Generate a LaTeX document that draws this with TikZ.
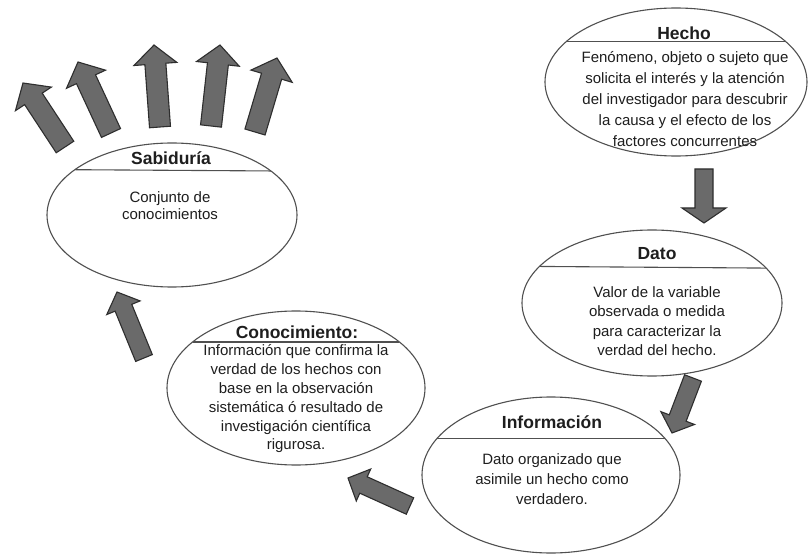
\documentclass[tikz,border=0pt]{standalone}
\usepackage{fontspec}
\setmainfont{Liberation Sans}
\usetikzlibrary{calc,shapes.geometric}
\definecolor{arrowfill}{HTML}{6A6A6A}
\definecolor{arrowline}{HTML}{2E2E2E}
\definecolor{inkline}{HTML}{505050}
\definecolor{inktext}{HTML}{1E1E1E}
\tikzset{
  bubble/.style={ellipse, draw=inkline, line width=1.1pt, inner sep=0pt, outer sep=0pt},
  sepline/.style={draw=inkline, line width=1.1pt},
  titletext/.style={text=inktext, font=\fontsize{17.5}{20}\selectfont\bfseries, inner sep=0pt},
  bodytext/.style={text=inktext, align=center, inner sep=0pt},
  barrow/.style={fill=arrowfill, draw=arrowline, line width=1.1pt, line join=miter},
}
% tail, tip, half shaft width, half head width, head length
\newcommand\blockarrow[5]{%
  \coordinate (#2-base) at ($(#2)!#5!(#1)$);
  \filldraw[barrow] ($(#1)!#3!90:(#2)$) -- ($(#2-base)!#3!90:(#2)$) -- ($(#2-base)!#4!90:(#2)$)
    -- (#2) -- ($(#2-base)!#4!-90:(#2)$) -- ($(#2-base)!#3!-90:(#2)$) -- ($(#1)!#3!-90:(#2)$) -- cycle;}
\begin{document}
\begin{tikzpicture}[x=1pt,y=-1pt]
\useasboundingbox[fill=white] (0,0) rectangle (809,556);

% ellipses
\node[bubble, minimum width=262pt, minimum height=148pt] (hecho) at (676,82) {};
\node[bubble, minimum width=260pt, minimum height=146pt] (dato) at (652,303) {};
\node[bubble, minimum width=258pt, minimum height=156pt] (info) at (551,475) {};
\node[bubble, minimum width=258pt, minimum height=154pt] (cono) at (296,388) {};
\node[bubble, minimum width=250pt, minimum height=144pt] (sabi) at (172,215) {};

% separators
\draw[sepline] (hecho.160) -- (hecho.20);
\draw[sepline] (dato.162.9) -- (dato.17.1);
\draw[sepline] (info.162) -- (info.18);
\draw[sepline] (cono.156) -- (cono.24);
\draw[sepline] (sabi.155) -- (sabi.24);

% titles
\node[titletext, anchor=base] (hechoT) at (684,39.5) {Hecho};
\node[titletext, anchor=base] (datoT) at (657,259.5) {Dato};
\node[titletext, anchor=base] (infoT) at (552,428.5) {Información};
\node[titletext, anchor=base] (conoT) at (297,338.5) {Conocimiento:};
\node[titletext, anchor=base] (sabiT) at (171,164.5) {Sabiduría};

% bodies
\node[bodytext, font=\fontsize{15}{21}\selectfont] (hechoB) at (685,99)
  {Fenómeno, objeto o sujeto que\\ solicita el interés y la atención\\ del investigador para descubrir\\ la causa y el efecto de los\\ factores concurrentes};
\node[bodytext, font=\fontsize{15}{19.3}\selectfont] (datoB) at (657,321)
  {Valor de la variable\\ observada o medida\\ para caracterizar la\\ verdad del hecho.};
\node[bodytext, font=\fontsize{15}{20}\selectfont] (infoB) at (552,479)
  {Dato organizado que\\ asimile un hecho como\\ verdadero.};
\node[bodytext, font=\fontsize{15}{18.8}\selectfont] (conoB) at (296,399)
  {Información que confirma la\\ verdad de los hechos con\\ base en la observación\\ sistemática ó resultado de\\ investigación científica\\ rigurosa.};
\node[bodytext, font=\fontsize{15}{17}\selectfont] (sabiB) at (170,205.5)
  {Conjunto de\\ conocimientos};

% cycle arrows
\coordinate (hdTail) at (704,169); \coordinate (hdTip) at (704,223);
\coordinate (diTail) at (693,378); \coordinate (diTip) at (672,433);
\coordinate (icTail) at (410,506); \coordinate (icTip) at (348,478);
\coordinate (csTail) at (144,358); \coordinate (csTip) at (117,292);
\blockarrow{hdTail}{hdTip}{9pt}{22pt}{15pt}
\blockarrow{diTail}{diTip}{9pt}{18pt}{16pt}
\blockarrow{icTail}{icTip}{9pt}{17.5pt}{17pt}
\blockarrow{csTail}{csTip}{9pt}{18pt}{17pt}

% wisdom fan arrows
\coordinate (w1Tail) at (65,147);  \coordinate (w1Tip) at (23,83);
\coordinate (w2Tail) at (111,133); \coordinate (w2Tip) at (78,62);
\coordinate (w3Tail) at (160,127); \coordinate (w3Tip) at (154,45);
\coordinate (w4Tail) at (211,126); \coordinate (w4Tip) at (220,45);
\coordinate (w5Tail) at (255,132); \coordinate (w5Tip) at (277,58);
\blockarrow{w1Tail}{w1Tip}{10.5pt}{21.5pt}{19pt}
\blockarrow{w2Tail}{w2Tip}{10.5pt}{21.5pt}{19pt}
\blockarrow{w3Tail}{w3Tip}{10.5pt}{21.5pt}{19pt}
\blockarrow{w4Tail}{w4Tip}{10.5pt}{21.5pt}{19pt}
\blockarrow{w5Tail}{w5Tip}{10.5pt}{21.5pt}{19pt}
\end{tikzpicture}
\end{document}
